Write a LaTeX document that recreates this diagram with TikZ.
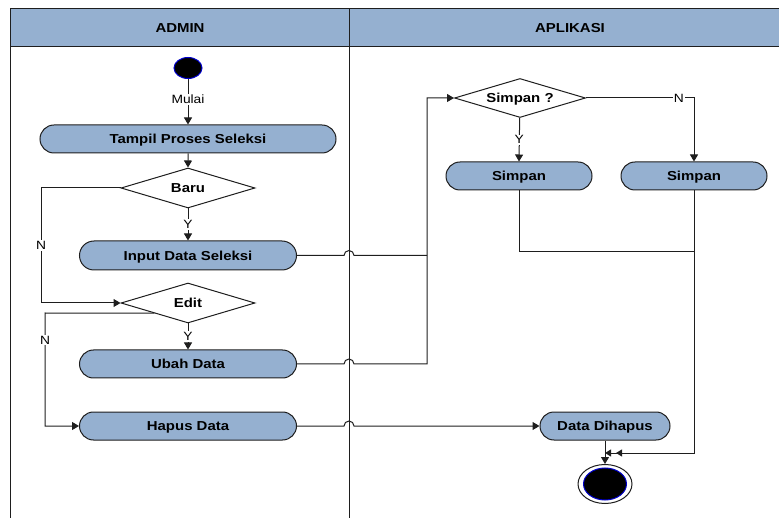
\documentclass[tikz,border=0pt]{standalone}
\usepackage{fontspec}
\setmainfont{Liberation Sans}[FakeStretch=1.15]
\usetikzlibrary{shapes.geometric,shapes.misc,arrows.meta}
\definecolor{laneblue}{RGB}{149,176,208}
\definecolor{edge}{RGB}{30,30,30}
\begin{document}
\begin{tikzpicture}[x=1pt,y=-1pt,
  bold/.style={font=\fontsize{13}{13}\selectfont\bfseries},
  act/.style={rounded rectangle, draw=edge, fill=laneblue, line width=1pt,
    minimum height=28pt, inner sep=0pt, text height=9.3pt, text depth=0pt, bold},
  dec/.style={diamond, aspect=3.3, draw=edge, fill=white, line width=1pt,
    minimum width=134pt, minimum height=40pt, inner sep=0pt,
    text height=9.3pt, text depth=0pt, bold},
  flow/.style={draw=edge, line width=1pt},
  tip/.style={flow, -{Triangle[length=7pt,width=8pt]}},
  lbl/.style={fill=white, inner sep=1pt, font=\fontsize{12}{12}\selectfont},
  lane/.style={draw=edge, line width=1pt}]
\useasboundingbox (0,0) rectangle (779,518);

% swimlane frame
\fill[laneblue] (10,9) rectangle (779,47);
\draw[lane] (779,9) -- (10,9) -- (10,518);
\draw[lane] (10,47) -- (779,47);
\draw[lane] (349,9) -- (349,518);
\coordinate (divider) at (349,47);
\node[bold, text height=9.3pt, text depth=0pt] (hadmin) at (180,28) {ADMIN};
\node[bold, text height=9.3pt, text depth=0pt] (haplikasi) at (570,28) {APLIKASI};

% ADMIN lane
\node[ellipse, fill=black, draw=blue!80!black, line width=1pt,
  minimum width=28pt, minimum height=21pt, inner sep=0pt] (start) at (188,68) {};
\node[act, minimum width=296pt] (tampil) at (188,139) {Tampil Proses Seleksi};
\node[dec] (baru) at (188,188) {Baru};
\node[act, minimum width=217pt, minimum height=29pt] (input) at (188,255.5) {Input Data Seleksi};
\node[dec] (edit) at (188,303) {Edit};
\node[act, minimum width=217pt] (ubah) at (188,364) {Ubah Data};
\node[act, minimum width=217pt] (hapus) at (188,426) {Hapus Data};

% APLIKASI lane
\node[dec, minimum width=131pt, minimum height=39pt] (simq) at (520,98) {Simpan ?};
\node[act, minimum width=146pt] (simpy) at (519,176) {Simpan};
\node[act, minimum width=146pt] (simpn) at (694,176) {Simpan};
\node[act, minimum width=130pt] (hapusd) at (605,426) {Data Dihapus};
\node[ellipse, draw=edge, fill=white, line width=1pt,
  minimum width=54pt, minimum height=39pt, inner sep=0pt] (stop) at (605,484) {};
\node[ellipse, fill=black, draw=blue!80!black, line width=1pt,
  minimum width=43pt, minimum height=32pt, inner sep=0pt] (stopdot) at (stop) {};

% junction points
\coordinate (nbaru) at (41,188);
\coordinate (nedit) at (45,313);
\coordinate (bus) at (427,98);
\coordinate (merge) at (694,252);
\coordinate (fin) at (694,453);

% ADMIN flow
\draw[tip] (start) -- (tampil.north) node[lbl, pos=0.45] {Mulai};
\draw[tip] (tampil) -- (baru.north);
\draw[tip] (baru) -- (input.north) node[lbl, pos=0.5] {Y};
\draw[tip] (baru.west) -- (nbaru) |- (edit.west) node[lbl, pos=0.25] {N};
\draw[tip] (edit) -- (ubah.north) node[lbl, pos=0.5] {Y};
\draw[tip] (edit.south west) -- (nedit) |- (hapus.west) node[lbl, pos=0.12] {N};

% crossings into APLIKASI
\draw[flow] (input.east) -- ([xshift=-5pt]input.east -| divider)
  arc[start angle=180, end angle=0, radius=5pt] -- (input.east -| bus);
\draw[tip] (ubah.east) -- ([xshift=-5pt]ubah.east -| divider)
  arc[start angle=180, end angle=0, radius=5pt] -- (ubah.east -| bus) |- (simq.west);
\draw[tip] (hapus.east) -- ([xshift=-5pt]hapus.east -| divider)
  arc[start angle=180, end angle=0, radius=5pt] -- (hapusd.west);

% APLIKASI flow
\draw[tip] (simq) -- (simpy.north) node[lbl, pos=0.5] {Y};
\draw[tip] (simq.east) -| (simpn.north) node[lbl, pos=0.43] {N};
\draw[flow] (simpy.south) |- (merge);
\draw[flow, -{Triangle[length=6pt,width=7pt,sep=5pt]Triangle[length=6pt,width=7pt]}]
  (simpn.south) -- (fin) -- (fin -| hapusd.south);
\draw[tip] (hapusd) -- (stop.north);
\end{tikzpicture}
\end{document}
